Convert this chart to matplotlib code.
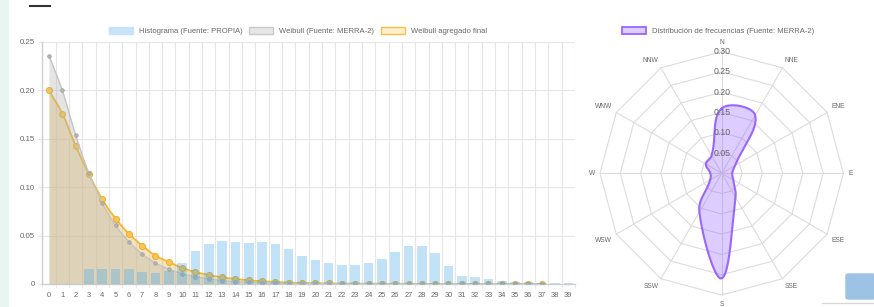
import numpy as np
import matplotlib.pyplot as plt
from matplotlib.patches import Patch, Rectangle, FancyBboxPatch
from matplotlib.lines import Line2D

plt.rcParams['font.family'] = ['Liberation Sans', 'DejaVu Sans']

# --- datos ---
bins = list(range(40))
histograma = [0, 0, 0, 0.0155, 0.0155, 0.0155, 0.0155, 0.0128, 0.011, 0.0138,
              0.022, 0.0338, 0.041, 0.0448, 0.0434, 0.0428, 0.0434, 0.041, 0.0357, 0.029,
              0.0245, 0.0217, 0.020, 0.020, 0.022, 0.0259, 0.033, 0.0393, 0.0393, 0.0324,
              0.019, 0.0086, 0.0069, 0.0048, 0.003, 0.0024, 0.0017, 0.0014, 0.001, 0.0007]
weibull_merra = [0.236, 0.200, 0.154, 0.1145, 0.084, 0.0607, 0.0438, 0.031, 0.0217, 0.0155,
                 0.0107, 0.0076, 0.0052, 0.0034, 0.0024, 0.0017, 0.0011, 0.0007, 0.0005, 0.0003,
                 0.0002, 0.0002, 0.0001, 0.0001, 0.0001, 0.0001, 0.0001, 0.0001, 0.0001, 0.0001,
                 0.0001, 0.0001, 0.0001, 0.0001, 0.0001, 0.0001, 0.0001, 0.0001]
weibull_final = [0.200, 0.176, 0.143, 0.1134, 0.0876, 0.0676, 0.052, 0.0397, 0.0293, 0.0228,
                 0.0166, 0.0124, 0.0093, 0.0069, 0.0052, 0.0038, 0.0028, 0.0020, 0.0015, 0.0011,
                 0.0008, 0.0006, 0.0005, 0.0004, 0.0003, 0.0003, 0.0002, 0.0002, 0.0002, 0.0001,
                 0.0001, 0.0001, 0.0001, 0.0001, 0.0001, 0.0001, 0.0001, 0.0001]

direcciones = ['N', 'NNE', 'ENE', 'E', 'ESE', 'SSE', 'S', 'SSW', 'WSW', 'W', 'WNW', 'NNW']
frecuencias = [0.160, 0.165, 0.038, 0.026, 0.033, 0.068, 0.259, 0.110, 0.033, 0.028, 0.045, 0.050]
radar_ticks = [0.05, 0.10, 0.15, 0.20, 0.25, 0.30]

W, H = 874, 307
def fx(px): return px / W
def fy(py): return 1 - py / H

GRID = '#e6e6e6'
TXT = '#666666'


def spline(xs, ys, tension=0.4, closed=False):
    # curva tipo Chart.js (bezier con tension)
    pts = np.column_stack([xs, ys]).astype(float)
    n = len(pts)
    cp1 = np.zeros_like(pts)
    cp2 = np.zeros_like(pts)
    for i in range(n):
        if closed:
            prev, nxt = pts[i - 1], pts[(i + 1) % n]
        else:
            prev, nxt = pts[max(i - 1, 0)], pts[min(i + 1, n - 1)]
        cur = pts[i]
        d01 = np.hypot(*(cur - prev))
        d12 = np.hypot(*(nxt - cur))
        tot = d01 + d12
        s01 = d01 / tot if tot else 0
        s12 = d12 / tot if tot else 0
        cp1[i] = cur - tension * s01 * (nxt - prev)
        cp2[i] = cur + tension * s12 * (nxt - prev)
    t = np.linspace(0, 1, 24)[:, None]
    out = []
    for i in range(n if closed else n - 1):
        j = (i + 1) % n
        b = ((1 - t) ** 3 * pts[i] + 3 * (1 - t) ** 2 * t * cp2[i]
             + 3 * (1 - t) * t ** 2 * cp1[j] + t ** 3 * pts[j])
        out.append(b if i == 0 else b[1:])
    out = np.vstack(out)
    return out[:, 0], out[:, 1]


fig = plt.figure(figsize=(8.74, 3.07), dpi=100)

# --- histograma + weibull ---
ax = fig.add_axes([fx(42.3), fy(284), (575 - 42.3) / W, (284 - 42) / H])
sx, sy = 13.32, 968.0  # px por unidad, para la curva


def curva(vals):
    x = np.arange(len(vals))
    cx, cy = spline(x * sx, np.array(vals) * sy)
    return cx / sx, np.clip(cy / sy, 0, None)


x3 = np.arange(len(weibull_final))
cx, cy = curva(weibull_final)
ax.fill_between(cx, cy, 0, color=(230/255, 190/255, 90/255), alpha=0.4, lw=0, zorder=1)
ax.plot(cx, cy, color='#f2b632', lw=1.3, zorder=2)
ax.plot(x3, weibull_final, 'o', ms=4.3, mfc='#f6c757', mec='#f0b030', mew=0.8, zorder=2)

x2 = np.arange(len(weibull_merra))
cx, cy = curva(weibull_merra)
ax.fill_between(cx, cy, 0, color=(180/255, 180/255, 180/255), alpha=0.35, lw=0, zorder=3)
ax.plot(cx, cy, color='#c4c4c4', lw=1.0, zorder=4)
ax.plot(x2, weibull_merra, 'o', ms=2.6, mfc='#b4b4b4', mec='#a0a0a0', mew=0.5, zorder=4)

ax.bar(bins, histograma, width=0.72, color=(54/255, 162/255, 235/255, 0.3), lw=0, zorder=5)

ax.set_xlim(-0.5, 39.5)
ax.set_ylim(0, 0.25)
ax.set_xticks(bins)
ax.set_xticklabels([str(b) for b in bins])
ax.set_xticks(np.arange(-0.5, 40, 1), minor=True)
ax.set_yticks([0, 0.05, 0.10, 0.15, 0.20, 0.25])
ax.set_yticklabels(['0', '0.05', '0.10', '0.15', '0.20', '0.25'])
ax.tick_params(axis='x', which='major', length=0, pad=6, labelsize=5.4, labelcolor=TXT)
ax.tick_params(axis='x', which='minor', length=3, color=GRID)
ax.tick_params(axis='y', length=3, color=GRID, pad=2, labelsize=5.7, labelcolor=TXT)
ax.grid(True, which='minor', axis='x', color=GRID, lw=0.8)
ax.grid(True, which='major', axis='y', color=GRID, lw=0.8)
ax.set_axisbelow(True)
for s in ['top', 'right']:
    ax.spines[s].set_visible(False)
for s in ['left', 'bottom']:
    ax.spines[s].set_color('#cfcfcf')
    ax.spines[s].set_linewidth(1.0)

handles = [
    Patch(facecolor='#c8e3f9', edgecolor='#c8e3f9', lw=1, label='Histograma (Fuente: PROPIA)'),
    Patch(facecolor='#e6e6e6', edgecolor='#c8c8c8', lw=1, label='Weibull (Fuente: MERRA-2)'),
    Patch(facecolor='#fff0cc', edgecolor='#f5c04a', lw=1, label='Weibull agregado final'),
]
ax.legend(handles=handles, ncol=3, loc='center', bbox_to_anchor=(fx(298), fy(31)),
          bbox_transform=fig.transFigure, frameon=False, fontsize=5.5, labelcolor=TXT,
          handlelength=3.1, handleheight=1.1, handletextpad=0.8, columnspacing=0.9,
          borderaxespad=0, borderpad=0)

# --- rosa de vientos ---
cxr, cyr, rad = 721.7, 173.3, 121.7
lim = 0.30 * 132 / rad
ax2 = fig.add_axes([fx(cxr - 132), fy(cyr + 132), 264 / W, 264 / H])
ax2.set_xlim(-lim, lim)
ax2.set_ylim(-lim, lim)
ax2.axis('off')

ang = np.deg2rad(np.arange(len(direcciones)) * 360 / len(direcciones))
for r in radar_ticks:
    ax2.plot(np.append(r * np.sin(ang), 0), np.append(r * np.cos(ang), r),
             color='#dcdcdc', lw=0.8, zorder=1)
for a in ang:
    ax2.plot([0, 0.30 * np.sin(a)], [0, 0.30 * np.cos(a)], color='#dcdcdc', lw=0.8, zorder=1)

fr = np.array(frecuencias)
px, py = spline(fr * np.sin(ang), fr * np.cos(ang), tension=0.4, closed=True)
ax2.fill(px, py, color=(153/255, 102/255, 255/255), alpha=0.33, lw=0, zorder=2)
ax2.plot(px, py, color='#9966ff', lw=1.5, zorder=3)

for r in radar_ticks:
    ax2.text(0, r, f'{r:.2f}', ha='center', va='center', fontsize=6.3, color=TXT, zorder=4)

for a, d in zip(ang, direcciones):
    s, c = np.sin(a), np.cos(a)
    ha = 'center' if abs(s) < 0.1 else ('left' if s > 0 else 'right')
    va = 'center' if abs(c) < 0.1 else ('bottom' if c > 0 else 'top')
    rl = 0.312 if abs(c) < 0.9 else 0.314
    ax2.text(rl * s, rl * c, d, ha=ha, va=va, fontsize=4.8, color=TXT)

ax2.legend(handles=[Patch(facecolor='#dccfff', edgecolor='#9966ff', lw=1.3,
                          label='Distribución de frecuencias (Fuente: MERRA-2)')],
           loc='center', bbox_to_anchor=(fx(718), fy(31)), bbox_transform=fig.transFigure,
           frameon=False, fontsize=5.5, labelcolor=TXT, handlelength=3.1, handleheight=1.1,
           handletextpad=0.8, borderaxespad=0, borderpad=0)

# --- restos de la página ---
fig.patches.append(Rectangle((0, 0), fx(8), 1, transform=fig.transFigure,
                             color='#e9f5f1', zorder=-1))
fig.lines.append(Line2D([fx(30), fx(50)], [fy(6), fy(6)], transform=fig.transFigure,
                        color='#333333', lw=1.5))
fig.patches.append(FancyBboxPatch((fx(846), fy(299)), fx(30), 25 / H,
                                  boxstyle='round,pad=0,rounding_size=0.004',
                                  transform=fig.transFigure, color='#9cc3e3'))
fig.lines.append(Line2D([fx(822), fx(874)], [fy(303), fy(303)], transform=fig.transFigure,
                        color='#d8d8d8', lw=1.0))

fig.savefig('out.png', dpi=100, facecolor='white')
